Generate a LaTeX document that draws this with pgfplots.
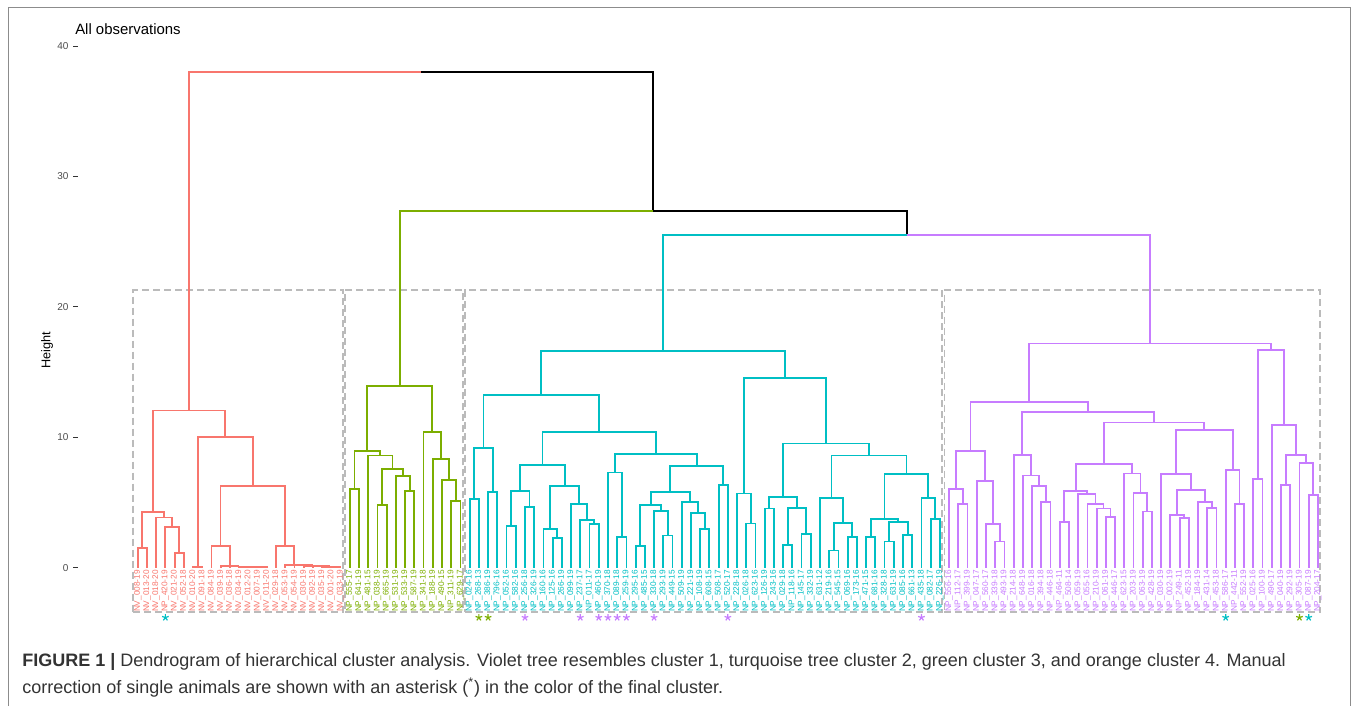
\documentclass[border=0pt]{standalone}
\usepackage{pgfplots}
\pgfplotsset{compat=1.18}
\usepackage{fontspec}
\setmainfont{Liberation Sans}
\definecolor{c1}{HTML}{C77CFF}
\definecolor{c2}{HTML}{00BFC4}
\definecolor{c3}{HTML}{7CAE00}
\definecolor{c4}{HTML}{F8766D}
\definecolor{boxgray}{HTML}{BBBBBB}
\definecolor{capgray}{HTML}{333333}
\begin{document}
\begin{tikzpicture}[lab/.style={rotate=90, anchor=east, inner sep=0pt, font=\fontsize{6.2}{7}\selectfont}]
\useasboundingbox (0,0) rectangle (1018.5pt,529.5pt);
\draw[black!45, line width=0.75pt] (6pt,0pt) -- (6pt,523.5pt) -- (1012.5pt,523.5pt) -- (1012.5pt,0pt);
\node[anchor=base west, inner sep=0pt, font=\fontsize{11.2}{13}\selectfont] at (56.25pt,503.25pt) {All observations};
\node[rotate=90, inner sep=0pt, font=\fontsize{9.5}{11}\selectfont] at (35.25pt,267pt) {Height};
\node[anchor=base west, inner sep=0pt, text=capgray, font=\fontsize{13.5}{15}\selectfont] at (16.5pt,30pt) {\textbf{FIGURE 1 |} Dendrogram of hierarchical cluster analysis. Violet tree resembles cluster 1, turquoise tree cluster 2, green cluster 3, and orange cluster 4. Manual};
\node[anchor=base west, inner sep=0pt, text=capgray, font=\fontsize{13.5}{15}\selectfont] at (16.5pt,9.75pt) {correction of single animals are shown with an asterisk (\textsuperscript{*}) in the color of the final cluster.};
\begin{axis}[
  at={(58.35pt,59.5pt)}, anchor=south west, scale only axis,
  width=943.9pt, height=445.3pt,
  xmin=-6.5, xmax=130, ymin=-4.5, ymax=41,
  axis line style={draw=none},
  xtick=\empty,
  ytick={0,10,20,30,40},
  ytick pos=left, tick align=outside, major tick length=3.5pt,
  y tick style={black!80, line width=0.7pt},
  y tick label style={font=\fontsize{7.5}{9}\selectfont, text=black!70},
  /pgf/number format/assume math mode=true,
  clip=false,
  every axis plot/.append style={line width=1.35pt, sharp plot, mark=none},
]
% ---------- cluster boxes ----------
\addplot[boxgray, line width=1.3pt, dash pattern=on 5.25pt off 3pt] coordinates {(-0.5,-3.37) (22.25,-3.37) (22.25,21.3) (-0.5,21.3) (-0.5,-3.37)};
\addplot[boxgray, line width=1.3pt, dash pattern=on 5.25pt off 3pt] coordinates {(22.5,-3.37) (35.25,-3.37) (35.25,21.3) (22.5,21.3) (22.5,-3.37)};
\addplot[boxgray, line width=1.3pt, dash pattern=on 5.25pt off 3pt] coordinates {(35.5,-3.37) (87.25,-3.37) (87.25,21.3) (35.5,21.3) (35.5,-3.37)};
\addplot[boxgray, line width=1.3pt, dash pattern=on 5.25pt off 3pt] coordinates {(87.5,-3.37) (128.25,-3.37) (128.25,21.3) (87.5,21.3) (87.5,-3.37)};
% ---------- top (black) ----------
\addplot[black] coordinates {(30.75,38.0) (55.91,38.0) (55.91,27.36) (83.395,27.36) (83.395,25.52)};
% ---------- orange cluster 4 ----------
\addplot[c4] coordinates {(5.591,12.06) (5.591,38.0) (30.75,38.0)};
\addplot[c4] coordinates {(0,0) (0,1.51) (1,1.51) (1,0)};
\addplot[c4] coordinates {(4,0) (4,1.12) (5,1.12) (5,0)};
\addplot[c4] coordinates {(3,0) (3,3.14) (4.5,3.14) (4.5,1.12)};
\addplot[c4] coordinates {(2,0) (2,3.86) (3.75,3.86) (3.75,3.14)};
\addplot[c4] coordinates {(0.5,1.51) (0.5,4.27) (2.875,4.27) (2.875,3.86)};
\addplot[c4] coordinates {(6,0) (6,0.1) (7,0.1) (7,0)};
\addplot[c4] coordinates {(13,0) (13,0.05) (14,0.05) (14,0)};
\addplot[c4] coordinates {(12,0) (12,0.07) (13.5,0.07) (13.5,0.05)};
\addplot[c4] coordinates {(11,0) (11,0.09) (12.75,0.09) (12.75,0.07)};
\addplot[c4] coordinates {(10,0) (10,0.11) (11.875,0.11) (11.875,0.09)};
\addplot[c4] coordinates {(9,0) (9,0.13) (10.9375,0.13) (10.9375,0.11)};
\addplot[c4] coordinates {(8,0) (8,1.71) (9.96875,1.71) (9.96875,0.13)};
\addplot[c4] coordinates {(21,0) (21,0.05) (22,0.05) (22,0)};
\addplot[c4] coordinates {(20,0) (20,0.08) (21.5,0.08) (21.5,0.05)};
\addplot[c4] coordinates {(19,0) (19,0.12) (20.75,0.12) (20.75,0.08)};
\addplot[c4] coordinates {(18,0) (18,0.16) (19.875,0.16) (19.875,0.12)};
\addplot[c4] coordinates {(17,0) (17,0.2) (18.9375,0.2) (18.9375,0.16)};
\addplot[c4] coordinates {(16,0) (16,0.25) (17.96875,0.25) (17.96875,0.2)};
\addplot[c4] coordinates {(15,0) (15,1.71) (16.984,1.71) (16.984,0.25)};
\addplot[c4] coordinates {(8.984,1.71) (8.984,6.28) (15.992,6.28) (15.992,1.71)};
\addplot[c4] coordinates {(6.5,0.1) (6.5,10.06) (12.488,10.06) (12.488,6.28)};
\addplot[c4] coordinates {(1.6875,4.27) (1.6875,12.06) (9.494,12.06) (9.494,10.06)};
% ---------- green cluster 3 ----------
\addplot[c3] coordinates {(28.42,13.95) (28.42,27.36) (55.91,27.36)};
\addplot[c3] coordinates {(23,0) (23,6.03) (24,6.03) (24,0)};
\addplot[c3] coordinates {(26,0) (26,4.83) (27,4.83) (27,0)};
\addplot[c3] coordinates {(29,0) (29,5.9) (30,5.9) (30,0)};
\addplot[c3] coordinates {(28,0) (28,7.02) (29.5,7.02) (29.5,5.9)};
\addplot[c3] coordinates {(26.5,4.83) (26.5,7.58) (28.75,7.58) (28.75,7.02)};
\addplot[c3] coordinates {(25,0) (25,8.61) (27.625,8.61) (27.625,7.58)};
\addplot[c3] coordinates {(23.5,6.03) (23.5,8.97) (26.3125,8.97) (26.3125,8.61)};
\addplot[c3] coordinates {(34,0) (34,5.11) (35,5.11) (35,0)};
\addplot[c3] coordinates {(33,0) (33,6.74) (34.5,6.74) (34.5,5.11)};
\addplot[c3] coordinates {(32,0) (32,8.35) (33.75,8.35) (33.75,6.74)};
\addplot[c3] coordinates {(31,0) (31,10.42) (32.875,10.42) (32.875,8.35)};
\addplot[c3] coordinates {(24.906,8.97) (24.906,13.95) (31.9375,13.95) (31.9375,10.42)};
% ---------- turquoise cluster 2 ----------
\addplot[c2] coordinates {(56.99,16.6) (56.99,25.52) (83.395,25.52)};
\addplot[c2] coordinates {(36,0) (36,5.29) (37,5.29) (37,0)};
\addplot[c2] coordinates {(38,0) (38,5.8) (39,5.8) (39,0)};
\addplot[c2] coordinates {(36.5,5.29) (36.5,9.22) (38.5,9.22) (38.5,5.8)};
\addplot[c2] coordinates {(40,0) (40,3.24) (41,3.24) (41,0)};
\addplot[c2] coordinates {(42,0) (42,4.7) (43,4.7) (43,0)};
\addplot[c2] coordinates {(40.5,3.24) (40.5,5.9) (42.5,5.9) (42.5,4.7)};
\addplot[c2] coordinates {(45,0) (45,2.3) (46,2.3) (46,0)};
\addplot[c2] coordinates {(44,0) (44,2.99) (45.5,2.99) (45.5,2.3)};
\addplot[c2] coordinates {(49,0) (49,3.35) (50,3.35) (50,0)};
\addplot[c2] coordinates {(48,0) (48,3.7) (49.5,3.7) (49.5,3.35)};
\addplot[c2] coordinates {(47,0) (47,4.9) (48.75,4.9) (48.75,3.7)};
\addplot[c2] coordinates {(44.75,2.99) (44.75,6.26) (47.875,6.26) (47.875,4.9)};
\addplot[c2] coordinates {(41.5,5.9) (41.5,7.87) (46.3125,7.87) (46.3125,6.26)};
\addplot[c2] coordinates {(52,0) (52,2.35) (53,2.35) (53,0)};
\addplot[c2] coordinates {(51,0) (51,7.31) (52.5,7.31) (52.5,2.35)};
\addplot[c2] coordinates {(54,0) (54,1.71) (55,1.71) (55,0)};
\addplot[c2] coordinates {(57,0) (57,2.48) (58,2.48) (58,0)};
\addplot[c2] coordinates {(56,0) (56,4.39) (57.5,4.39) (57.5,2.48)};
\addplot[c2] coordinates {(54.5,1.71) (54.5,4.85) (56.75,4.85) (56.75,4.39)};
\addplot[c2] coordinates {(61,0) (61,2.99) (62,2.99) (62,0)};
\addplot[c2] coordinates {(60,0) (60,4.19) (61.5,4.19) (61.5,2.99)};
\addplot[c2] coordinates {(59,0) (59,5.06) (60.75,5.06) (60.75,4.19)};
\addplot[c2] coordinates {(55.625,4.85) (55.625,5.8) (59.875,5.8) (59.875,5.06)};
\addplot[c2] coordinates {(63,0) (63,6.36) (64,6.36) (64,0)};
\addplot[c2] coordinates {(57.75,5.8) (57.75,7.79) (63.5,7.79) (63.5,6.36)};
\addplot[c2] coordinates {(51.75,7.31) (51.75,8.76) (60.625,8.76) (60.625,7.79)};
\addplot[c2] coordinates {(43.906,7.87) (43.906,10.42) (56.1875,10.42) (56.1875,8.76)};
\addplot[c2] coordinates {(37.5,9.22) (37.5,13.23) (50.047,13.23) (50.047,10.42)};
\addplot[c2] coordinates {(66,0) (66,3.4) (67,3.4) (67,0)};
\addplot[c2] coordinates {(65,0) (65,5.7) (66.5,5.7) (66.5,3.4)};
\addplot[c2] coordinates {(68,0) (68,4.55) (69,4.55) (69,0)};
\addplot[c2] coordinates {(70,0) (70,1.76) (71,1.76) (71,0)};
\addplot[c2] coordinates {(72,0) (72,2.63) (73,2.63) (73,0)};
\addplot[c2] coordinates {(70.5,1.76) (70.5,4.62) (72.5,4.62) (72.5,2.63)};
\addplot[c2] coordinates {(68.5,4.55) (68.5,5.44) (71.5,5.44) (71.5,4.62)};
\addplot[c2] coordinates {(75,0) (75,1.33) (76,1.33) (76,0)};
\addplot[c2] coordinates {(77,0) (77,2.4) (78,2.4) (78,0)};
\addplot[c2] coordinates {(75.5,1.33) (75.5,3.47) (77.5,3.47) (77.5,2.4)};
\addplot[c2] coordinates {(74,0) (74,5.34) (76.5,5.34) (76.5,3.47)};
\addplot[c2] coordinates {(79,0) (79,2.38) (80,2.38) (80,0)};
\addplot[c2] coordinates {(81,0) (81,2.02) (82,2.02) (82,0)};
\addplot[c2] coordinates {(83,0) (83,2.53) (84,2.53) (84,0)};
\addplot[c2] coordinates {(81.5,2.02) (81.5,3.52) (83.5,3.52) (83.5,2.53)};
\addplot[c2] coordinates {(79.5,2.38) (79.5,3.73) (82.5,3.73) (82.5,3.52)};
\addplot[c2] coordinates {(86,0) (86,3.78) (87,3.78) (87,0)};
\addplot[c2] coordinates {(85,0) (85,5.39) (86.5,5.39) (86.5,3.78)};
\addplot[c2] coordinates {(81,3.73) (81,7.2) (85.75,7.2) (85.75,5.39)};
\addplot[c2] coordinates {(75.25,5.34) (75.25,8.61) (83.375,8.61) (83.375,7.2)};
\addplot[c2] coordinates {(70,5.44) (70,9.53) (79.3125,9.53) (79.3125,8.61)};
\addplot[c2] coordinates {(65.75,5.7) (65.75,14.53) (74.656,14.53) (74.656,9.53)};
\addplot[c2] coordinates {(43.77,13.23) (43.77,16.6) (70.203,16.6) (70.203,14.53)};
% ---------- violet cluster 1 ----------
\addplot[c1] coordinates {(83.395,25.52) (109.80,25.52) (109.80,17.2)};
\addplot[c1] coordinates {(89,0) (89,4.9) (90,4.9) (90,0)};
\addplot[c1] coordinates {(88,0) (88,6.03) (89.5,6.03) (89.5,4.9)};
\addplot[c1] coordinates {(93,0) (93,2.02) (94,2.02) (94,0)};
\addplot[c1] coordinates {(92,0) (92,3.37) (93.5,3.37) (93.5,2.02)};
\addplot[c1] coordinates {(91,0) (91,6.67) (92.75,6.67) (92.75,3.37)};
\addplot[c1] coordinates {(88.75,6.03) (88.75,8.97) (91.875,8.97) (91.875,6.67)};
\addplot[c1] coordinates {(98,0) (98,5.03) (99,5.03) (99,0)};
\addplot[c1] coordinates {(97,0) (97,6.26) (98.5,6.26) (98.5,5.03)};
\addplot[c1] coordinates {(96,0) (96,7.08) (97.75,7.08) (97.75,6.26)};
\addplot[c1] coordinates {(95,0) (95,8.63) (96.875,8.63) (96.875,7.08)};
\addplot[c1] coordinates {(100,0) (100,3.55) (101,3.55) (101,0)};
\addplot[c1] coordinates {(105,0) (105,3.88) (106,3.88) (106,0)};
\addplot[c1] coordinates {(104,0) (104,4.55) (105.5,4.55) (105.5,3.88)};
\addplot[c1] coordinates {(103,0) (103,4.93) (104.75,4.93) (104.75,4.55)};
\addplot[c1] coordinates {(102,0) (102,5.67) (103.875,5.67) (103.875,4.93)};
\addplot[c1] coordinates {(100.5,3.55) (100.5,5.87) (102.9375,5.87) (102.9375,5.67)};
\addplot[c1] coordinates {(109,0) (109,4.32) (110,4.32) (110,0)};
\addplot[c1] coordinates {(108,0) (108,5.72) (109.5,5.72) (109.5,4.32)};
\addplot[c1] coordinates {(107,0) (107,7.23) (108.75,7.23) (108.75,5.72)};
\addplot[c1] coordinates {(101.72,5.87) (101.72,7.94) (107.875,7.94) (107.875,7.23)};
\addplot[c1] coordinates {(113,0) (113,3.8) (114,3.8) (114,0)};
\addplot[c1] coordinates {(112,0) (112,4.06) (113.5,4.06) (113.5,3.8)};
\addplot[c1] coordinates {(116,0) (116,4.62) (117,4.62) (117,0)};
\addplot[c1] coordinates {(115,0) (115,5.08) (116.5,5.08) (116.5,4.62)};
\addplot[c1] coordinates {(112.75,4.06) (112.75,5.98) (115.75,5.98) (115.75,5.08)};
\addplot[c1] coordinates {(111,0) (111,7.18) (114.25,7.18) (114.25,5.98)};
\addplot[c1] coordinates {(119,0) (119,4.93) (120,4.93) (120,0)};
\addplot[c1] coordinates {(118,0) (118,7.51) (119.5,7.51) (119.5,4.93)};
\addplot[c1] coordinates {(112.625,7.18) (112.625,10.57) (118.75,10.57) (118.75,7.51)};
\addplot[c1] coordinates {(104.797,7.94) (104.797,11.14) (115.6875,11.14) (115.6875,10.57)};
\addplot[c1] coordinates {(95.9375,8.63) (95.9375,11.98) (110.242,11.98) (110.242,11.14)};
\addplot[c1] coordinates {(90.3125,8.97) (90.3125,12.72) (103.09,12.72) (103.09,11.98)};
\addplot[c1] coordinates {(121,0) (121,6.82) (122,6.82) (122,0)};
\addplot[c1] coordinates {(127,0) (127,5.62) (128,5.62) (128,0)};
\addplot[c1] coordinates {(126,0) (126,8.05) (127.5,8.05) (127.5,5.62)};
\addplot[c1] coordinates {(124,0) (124,6.36) (125,6.36) (125,0)};
\addplot[c1] coordinates {(124.5,6.36) (124.5,8.66) (126.75,8.66) (126.75,8.05)};
\addplot[c1] coordinates {(123,0) (123,10.96) (125.625,10.96) (125.625,8.66)};
\addplot[c1] coordinates {(121.5,6.82) (121.5,16.7) (124.3125,16.7) (124.3125,10.96)};
\addplot[c1] coordinates {(96.70,12.72) (96.70,17.2) (122.906,17.2) (122.906,16.7)};
% ---------- asterisks ----------
\addplot[c2, only marks, mark=star, mark size=2.6pt, line width=0.9pt] coordinates {(3,-3.8) (118,-3.8) (127,-3.8)};
\addplot[c3, only marks, mark=star, mark size=2.6pt, line width=0.9pt] coordinates {(37,-3.8) (38,-3.8) (126,-3.8)};
\addplot[c1, only marks, mark=star, mark size=2.6pt, line width=0.9pt] coordinates {(42,-3.8) (48,-3.8) (50,-3.8) (51,-3.8) (52,-3.8) (53,-3.8) (56,-3.8) (64,-3.8) (85,-3.8)};
% ---------- leaf labels ----------
\node[lab,text=c4] at (axis cs:0,-0.15) {NV\_008-19};
\node[lab,text=c4] at (axis cs:1,-0.15) {NV\_013-20};
\node[lab,text=c4] at (axis cs:2,-0.15) {NV\_018-20};
\node[lab,text=c4] at (axis cs:3,-0.15) {NP\_420-19};
\node[lab,text=c4] at (axis cs:4,-0.15) {NV\_021-20};
\node[lab,text=c4] at (axis cs:5,-0.15) {NV\_052-18};
\node[lab,text=c4] at (axis cs:6,-0.15) {NV\_010-20};
\node[lab,text=c4] at (axis cs:7,-0.15) {NV\_091-18};
\node[lab,text=c4] at (axis cs:8,-0.15) {NV\_084-19};
\node[lab,text=c4] at (axis cs:9,-0.15) {NV\_039-19};
\node[lab,text=c4] at (axis cs:10,-0.15) {NV\_036-18};
\node[lab,text=c4] at (axis cs:11,-0.15) {NV\_034-19};
\node[lab,text=c4] at (axis cs:12,-0.15) {NV\_012-20};
\node[lab,text=c4] at (axis cs:13,-0.15) {NV\_007-19};
\node[lab,text=c4] at (axis cs:14,-0.15) {NV\_011-20};
\node[lab,text=c4] at (axis cs:15,-0.15) {NV\_029-18};
\node[lab,text=c4] at (axis cs:16,-0.15) {NV\_053-19};
\node[lab,text=c4] at (axis cs:17,-0.15) {NV\_054-19};
\node[lab,text=c4] at (axis cs:18,-0.15) {NV\_030-19};
\node[lab,text=c4] at (axis cs:19,-0.15) {NV\_092-19};
\node[lab,text=c4] at (axis cs:20,-0.15) {NV\_035-19};
\node[lab,text=c4] at (axis cs:21,-0.15) {NV\_001-20};
\node[lab,text=c4] at (axis cs:22,-0.15) {NV\_033-19};
\node[lab,text=c3] at (axis cs:23,-0.15) {NP\_555-17};
\node[lab,text=c3] at (axis cs:24,-0.15) {NP\_641-19};
\node[lab,text=c3] at (axis cs:25,-0.15) {NP\_481-15};
\node[lab,text=c3] at (axis cs:26,-0.15) {NP\_038-19};
\node[lab,text=c3] at (axis cs:27,-0.15) {NP\_665-19};
\node[lab,text=c3] at (axis cs:28,-0.15) {NP\_531-19};
\node[lab,text=c3] at (axis cs:29,-0.15) {NP\_533-19};
\node[lab,text=c3] at (axis cs:30,-0.15) {NP\_587-19};
\node[lab,text=c3] at (axis cs:31,-0.15) {NP\_341-18};
\node[lab,text=c3] at (axis cs:32,-0.15) {NP\_188-19};
\node[lab,text=c3] at (axis cs:33,-0.15) {NP\_490-15};
\node[lab,text=c3] at (axis cs:34,-0.15) {NP\_311-19};
\node[lab,text=c3] at (axis cs:35,-0.15) {NP\_629-17};
\node[lab,text=c2] at (axis cs:36,-0.15) {NP\_024-16};
\node[lab,text=c2] at (axis cs:37,-0.15) {NP\_268-13};
\node[lab,text=c2] at (axis cs:38,-0.15) {NP\_386-19};
\node[lab,text=c2] at (axis cs:39,-0.15) {NP\_796-16};
\node[lab,text=c2] at (axis cs:40,-0.15) {NP\_052-16};
\node[lab,text=c2] at (axis cs:41,-0.15) {NP\_582-16};
\node[lab,text=c2] at (axis cs:42,-0.15) {NP\_256-18};
\node[lab,text=c2] at (axis cs:43,-0.15) {NP\_326-19};
\node[lab,text=c2] at (axis cs:44,-0.15) {NP\_160-16};
\node[lab,text=c2] at (axis cs:45,-0.15) {NP\_125-16};
\node[lab,text=c2] at (axis cs:46,-0.15) {NP\_266-19};
\node[lab,text=c2] at (axis cs:47,-0.15) {NP\_099-19};
\node[lab,text=c2] at (axis cs:48,-0.15) {NP\_237-17};
\node[lab,text=c2] at (axis cs:49,-0.15) {NP\_011-17};
\node[lab,text=c2] at (axis cs:50,-0.15) {NP\_460-19};
\node[lab,text=c2] at (axis cs:51,-0.15) {NP\_370-18};
\node[lab,text=c2] at (axis cs:52,-0.15) {NP\_089-18};
\node[lab,text=c2] at (axis cs:53,-0.15) {NP\_259-19};
\node[lab,text=c2] at (axis cs:54,-0.15) {NP\_295-16};
\node[lab,text=c2] at (axis cs:55,-0.15) {NP\_485-15};
\node[lab,text=c2] at (axis cs:56,-0.15) {NP\_330-18};
\node[lab,text=c2] at (axis cs:57,-0.15) {NP\_293-19};
\node[lab,text=c2] at (axis cs:58,-0.15) {NP\_449-15};
\node[lab,text=c2] at (axis cs:59,-0.15) {NP\_509-19};
\node[lab,text=c2] at (axis cs:60,-0.15) {NP\_221-19};
\node[lab,text=c2] at (axis cs:61,-0.15) {NP\_108-19};
\node[lab,text=c2] at (axis cs:62,-0.15) {NP\_608-15};
\node[lab,text=c2] at (axis cs:63,-0.15) {NP\_508-17};
\node[lab,text=c2] at (axis cs:64,-0.15) {NP\_520-17};
\node[lab,text=c2] at (axis cs:65,-0.15) {NP\_228-18};
\node[lab,text=c2] at (axis cs:66,-0.15) {NP\_026-18};
\node[lab,text=c2] at (axis cs:67,-0.15) {NP\_623-16};
\node[lab,text=c2] at (axis cs:68,-0.15) {NP\_126-19};
\node[lab,text=c2] at (axis cs:69,-0.15) {NP\_243-16};
\node[lab,text=c2] at (axis cs:70,-0.15) {NP\_029-18};
\node[lab,text=c2] at (axis cs:71,-0.15) {NP\_118-16};
\node[lab,text=c2] at (axis cs:72,-0.15) {NP\_145-17};
\node[lab,text=c2] at (axis cs:73,-0.15) {NP\_332-19};
\node[lab,text=c2] at (axis cs:74,-0.15) {NP\_631-12};
\node[lab,text=c2] at (axis cs:75,-0.15) {NP\_219-16};
\node[lab,text=c2] at (axis cs:76,-0.15) {NP\_545-15};
\node[lab,text=c2] at (axis cs:77,-0.15) {NP\_069-16};
\node[lab,text=c2] at (axis cs:78,-0.15) {NP\_173-16};
\node[lab,text=c2] at (axis cs:79,-0.15) {NP\_471-15};
\node[lab,text=c2] at (axis cs:80,-0.15) {NP\_681-16};
\node[lab,text=c2] at (axis cs:81,-0.15) {NP\_328-18};
\node[lab,text=c2] at (axis cs:82,-0.15) {NP\_631-19};
\node[lab,text=c2] at (axis cs:83,-0.15) {NP\_085-16};
\node[lab,text=c2] at (axis cs:84,-0.15) {NP\_661-13};
\node[lab,text=c2] at (axis cs:85,-0.15) {NP\_435-18};
\node[lab,text=c2] at (axis cs:86,-0.15) {NP\_082-17};
\node[lab,text=c2] at (axis cs:87,-0.15) {NP\_226-19};
\node[lab,text=c1] at (axis cs:88,-0.15) {NP\_556-16};
\node[lab,text=c1] at (axis cs:89,-0.15) {NP\_112-17};
\node[lab,text=c1] at (axis cs:90,-0.15) {NP\_399-19};
\node[lab,text=c1] at (axis cs:91,-0.15) {NP\_047-17};
\node[lab,text=c1] at (axis cs:92,-0.15) {NP\_560-17};
\node[lab,text=c1] at (axis cs:93,-0.15) {NP\_339-18};
\node[lab,text=c1] at (axis cs:94,-0.15) {NP\_493-19};
\node[lab,text=c1] at (axis cs:95,-0.15) {NP\_214-18};
\node[lab,text=c1] at (axis cs:96,-0.15) {NP\_648-19};
\node[lab,text=c1] at (axis cs:97,-0.15) {NP\_016-18};
\node[lab,text=c1] at (axis cs:98,-0.15) {NP\_394-18};
\node[lab,text=c1] at (axis cs:99,-0.15) {NP\_446-18};
\node[lab,text=c1] at (axis cs:100,-0.15) {NP\_464-11};
\node[lab,text=c1] at (axis cs:101,-0.15) {NP\_508-14};
\node[lab,text=c1] at (axis cs:102,-0.15) {NP\_059-19};
\node[lab,text=c1] at (axis cs:103,-0.15) {NP\_055-16};
\node[lab,text=c1] at (axis cs:104,-0.15) {NP\_210-19};
\node[lab,text=c1] at (axis cs:105,-0.15) {NP\_061-19};
\node[lab,text=c1] at (axis cs:106,-0.15) {NP\_446-17};
\node[lab,text=c1] at (axis cs:107,-0.15) {NP\_623-15};
\node[lab,text=c1] at (axis cs:108,-0.15) {NP\_203-19};
\node[lab,text=c1] at (axis cs:109,-0.15) {NP\_063-19};
\node[lab,text=c1] at (axis cs:110,-0.15) {NP\_428-19};
\node[lab,text=c1] at (axis cs:111,-0.15) {NP\_030-19};
\node[lab,text=c1] at (axis cs:112,-0.15) {NP\_002-19};
\node[lab,text=c1] at (axis cs:113,-0.15) {NP\_249-11};
\node[lab,text=c1] at (axis cs:114,-0.15) {NP\_452-19};
\node[lab,text=c1] at (axis cs:115,-0.15) {NP\_184-19};
\node[lab,text=c1] at (axis cs:116,-0.15) {NP\_431-14};
\node[lab,text=c1] at (axis cs:117,-0.15) {NP\_453-18};
\node[lab,text=c1] at (axis cs:118,-0.15) {NP\_586-17};
\node[lab,text=c1] at (axis cs:119,-0.15) {NP\_442-11};
\node[lab,text=c1] at (axis cs:120,-0.15) {NP\_552-19};
\node[lab,text=c1] at (axis cs:121,-0.15) {NP\_025-16};
\node[lab,text=c1] at (axis cs:122,-0.15) {NP\_100-19};
\node[lab,text=c1] at (axis cs:123,-0.15) {NP\_490-17};
\node[lab,text=c1] at (axis cs:124,-0.15) {NP\_040-19};
\node[lab,text=c1] at (axis cs:125,-0.15) {NP\_292-19};
\node[lab,text=c1] at (axis cs:126,-0.15) {NP\_305-19};
\node[lab,text=c1] at (axis cs:127,-0.15) {NP\_087-19};
\node[lab,text=c1] at (axis cs:128,-0.15) {NP\_204-17};
\end{axis}
\end{tikzpicture}
\end{document}
